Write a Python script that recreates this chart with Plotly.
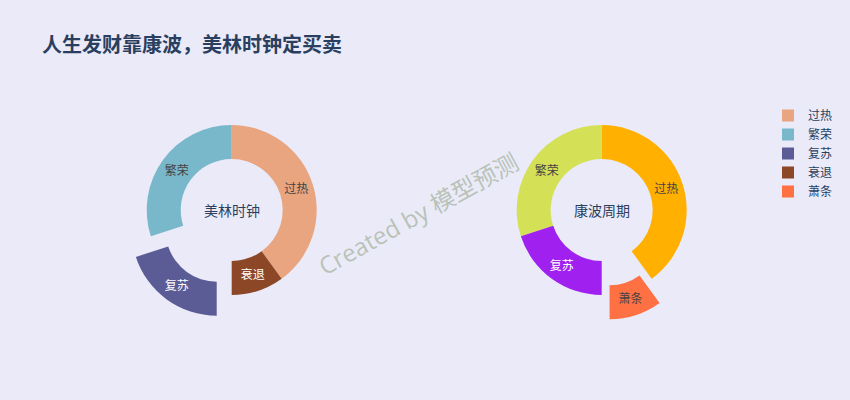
import plotly.graph_objects as go

# ---- data ----
title_text = "人生发财靠康波，美林时钟定买卖"
ml_labels = ["过热", "繁荣", "复苏", "衰退"]
ml_values = [40, 30, 20, 10]
ml_colors = ["#E8A580", "#79B7CA", "#5B5C96", "#8B4726"]
ml_pull = [0, 0, 0.3, 0]
ml_name = "美林时钟"

kb_labels = ["过热", "繁荣", "复苏", "萧条"]
kb_values = [40, 30, 20, 10]
kb_colors = ["#FFB000", "#D4E157", "#A020F0", "#FF7043"]
kb_pull = [0, 0, 0, 0.3]
kb_name = "康波周期"

watermark = "Created by 模型预测"

W, H = 850, 400
FONT = "Open Sans, Noto Sans CJK SC, sans-serif"
TXT = "#2a3f5f"

def dom(cx, cy, r, pull=0.3):
    half = r * (1 + pull)
    return dict(x=[(cx - half) / W, (cx + half) / W],
                y=[1 - (cy + half) / H, 1 - (cy - half) / H])

fig = go.Figure()
fig.add_trace(go.Pie(
    labels=ml_labels, values=ml_values, name=ml_name,
    marker=dict(colors=ml_colors),
    hole=0.6, pull=ml_pull, sort=False, direction="counterclockwise",
    rotation=0, textinfo="label", textposition="inside",
    insidetextorientation="horizontal", textfont=dict(size=12),
    domain=dom(231.7, 210, 85),
))
fig.add_trace(go.Pie(
    labels=kb_labels, values=kb_values, name=kb_name,
    marker=dict(colors=kb_colors),
    hole=0.6, pull=kb_pull, sort=False, direction="counterclockwise",
    rotation=0, textinfo="label", textposition="inside",
    insidetextorientation="horizontal", textfont=dict(size=12),
    domain=dom(601.7, 210, 85),
))

annotations = [
    dict(text=ml_name, x=231.7 / W, y=1 - 210 / H, xref="paper", yref="paper",
         xanchor="center", yanchor="middle",
         showarrow=False, font=dict(size=14, color=TXT)),
    dict(text=kb_name, x=601.7 / W, y=1 - 210 / H, xref="paper", yref="paper",
         xanchor="center", yanchor="middle",
         showarrow=False, font=dict(size=14, color=TXT)),
    dict(text=watermark, x=418 / W, y=1 - 213 / H, xref="paper", yref="paper",
         xanchor="center", yanchor="middle",
         showarrow=False, textangle=-29,
         font=dict(size=24, color="rgba(150,168,140,0.6)")),
]

fig.update_layout(
    width=W, height=H,
    paper_bgcolor="#EAEAF8", plot_bgcolor="#EAEAF8",
    margin=dict(l=0, r=0, t=0, b=0),
    font=dict(family=FONT, color=TXT, size=12),
    title=dict(text="<b>" + title_text + "</b>", x=42 / W, xanchor="left",
               y=1 - 45 / H, yanchor="middle", font=dict(size=20, color=TXT)),
    legend=dict(x=768 / W, xanchor="left", y=1 - 101 / H, yanchor="top",
                font=dict(size=12, color=TXT), bgcolor="rgba(0,0,0,0)"),
    annotations=annotations,
)

fig.write_html(
    "out.html",
    config={"displayModeBar": False},
    post_script="document.body.style.margin='0';document.body.style.overflow='hidden';",
)
